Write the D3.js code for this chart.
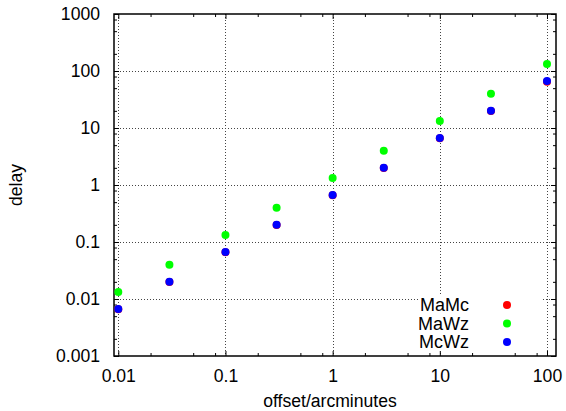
<!DOCTYPE html>
<html>
<head>
<meta charset="utf-8">
<script src="https://cdn.jsdelivr.net/npm/d3@7"></script>
<style>
  body { margin: 0; background: #fff; }
  text { font-family: "Liberation Sans", Arial, sans-serif; font-size: 17.6px; fill: #000; }
  .legend text { font-size: 18px; }
</style>
</head>
<body>
<svg id="vis" width="566" height="411"></svg>
<script>
// offsets in arcminutes
var offsets = [0.01, 0.03, 0.1, 0.3, 1, 3, 10, 30, 100];

// delay for each pair
var maMc = [0.0066, 0.0198, 0.066, 0.198, 0.66, 1.98, 6.6, 19.8, 65];
var maWz = [0.0133, 0.04, 0.133, 0.4, 1.33, 4, 13.3, 40, 133];
var mcWz = [0.00667, 0.02, 0.0667, 0.2, 0.667, 2, 6.67, 20, 66.7];

var seriesNames = ["MaMc", "MaWz", "McWz"];
var seriesValues = [maMc, maWz, mcWz];

var xTicks = [0.01, 0.1, 1, 10, 100];
var xTickLabels = ["0.01", "0.1", "1", "10", "100"];
var yTicks = [0.001, 0.01, 0.1, 1, 10, 100, 1000];
var yTickLabels = ["0.001", "0.01", "0.1", "1", "10", "100", "1000"];
var minorSteps = [2, 5, 8];

const colors = {
  "MaMc": "#ff0000",
  "MaWz": "#00ff00",
  "McWz": "#0000ff"
};

var svg = d3.select("svg#vis");

var attr = {
  left: 114,
  right: 556,
  top: 14,
  bottom: 356
};

// x domain runs a little past the decades, as in the original
var x = d3.scaleLog()
  .domain([Math.pow(10, -2.04), Math.pow(10, 2.084)])
  .range([attr.left, attr.right]);

var y = d3.scaleLog()
  .domain([0.001, 1000])
  .range([attr.bottom, attr.top]);

var minorX = [];
xTicks.concat([0.001]).forEach(function(t) {
  minorSteps.forEach(function(m) {
    var v = t * m;
    if (x(v) > attr.left && x(v) < attr.right) minorX.push(v);
  });
});
var minorY = [];
yTicks.forEach(function(t) {
  minorSteps.forEach(function(m) {
    var v = t * m;
    if (v < 1000) minorY.push(v);
  });
});

// grid
var grid = svg.append("g").attr("class", "grid")
  .style("stroke", "#444")
  .style("stroke-width", 1)
  .style("stroke-dasharray", "1,2");

grid.selectAll("line.gx")
  .data(xTicks)
  .enter().append("line")
  .attr("x1", d => Math.round(x(d)) + 0.5)
  .attr("x2", d => Math.round(x(d)) + 0.5)
  .attr("y1", attr.top)
  .attr("y2", attr.bottom);

grid.selectAll("line.gy")
  .data(yTicks.slice(1, -1))
  .enter().append("line")
  .attr("x1", attr.left)
  .attr("x2", attr.right)
  .attr("y1", d => Math.round(y(d)) + 0.5)
  .attr("y2", d => Math.round(y(d)) + 0.5);

// axes, ticks drawn inward on all four sides
function addAxis(axis, tx, ty) {
  var a = svg.append("g")
    .attr("transform", "translate(" + tx + "," + ty + ")")
    .call(axis);
  a.attr("font-size", null).attr("font-family", null);
  a.select(".domain").remove();
  a.selectAll("line").attr("stroke", "#000").attr("stroke-width", 1);
  return a;
}

addAxis(d3.axisBottom(x).tickValues(xTicks).tickSize(-5).tickFormat((d, i) => xTickLabels[i]).tickPadding(14), 0, attr.bottom);
addAxis(d3.axisBottom(x).tickValues(minorX).tickSize(-3).tickFormat(""), 0, attr.bottom);
addAxis(d3.axisTop(x).tickValues(xTicks).tickSize(-5).tickFormat(""), 0, attr.top);
addAxis(d3.axisTop(x).tickValues(minorX).tickSize(-3).tickFormat(""), 0, attr.top);

addAxis(d3.axisLeft(y).tickValues(yTicks).tickSize(-5).tickFormat((d, i) => yTickLabels[i]).tickPadding(14), attr.left, 0);
addAxis(d3.axisLeft(y).tickValues(minorY).tickSize(-3).tickFormat(""), attr.left, 0);
addAxis(d3.axisRight(y).tickValues(yTicks).tickSize(-5).tickFormat(""), attr.right, 0);
addAxis(d3.axisRight(y).tickValues(minorY).tickSize(-3).tickFormat(""), attr.right, 0);

// opaque key box hides the grid behind the legend
var legend = svg.append("g").attr("class", "legend");
legend.append("rect")
  .attr("x", 418)
  .attr("y", 294)
  .attr("width", 125)
  .attr("height", 57)
  .style("fill", "#fff");

svg.append("rect")
  .attr("x", attr.left)
  .attr("y", attr.top)
  .attr("width", attr.right - attr.left)
  .attr("height", attr.bottom - attr.top)
  .style("fill", "none")
  .style("stroke", "#000")
  .style("stroke-width", 1.5);

// points
seriesNames.forEach(function(name, i) {
  svg.append("g").selectAll("circle")
    .data(seriesValues[i])
    .enter().append("circle")
    .attr("cx", (d, j) => x(offsets[j]))
    .attr("cy", d => y(d))
    .attr("r", 4)
    .style("fill", colors[name]);
});

// legend entries
var entries = svg.append("g").attr("class", "legend");
seriesNames.forEach(function(name, i) {
  var ly = 305 + i * 18.5;
  entries.append("text")
    .attr("x", 469)
    .attr("y", ly)
    .attr("dy", "0.35em")
    .attr("text-anchor", "end")
    .text(name);
  entries.append("circle")
    .attr("cx", 507)
    .attr("cy", ly)
    .attr("r", 4)
    .style("fill", colors[name]);
});

// axis titles
svg.append("text")
  .attr("x", 330)
  .attr("y", 407)
  .attr("text-anchor", "middle")
  .text("offset/arcminutes");

svg.append("text")
  .attr("transform", "translate(22,185) rotate(-90)")
  .attr("text-anchor", "middle")
  .text("delay");
</script>
</body>
</html>
